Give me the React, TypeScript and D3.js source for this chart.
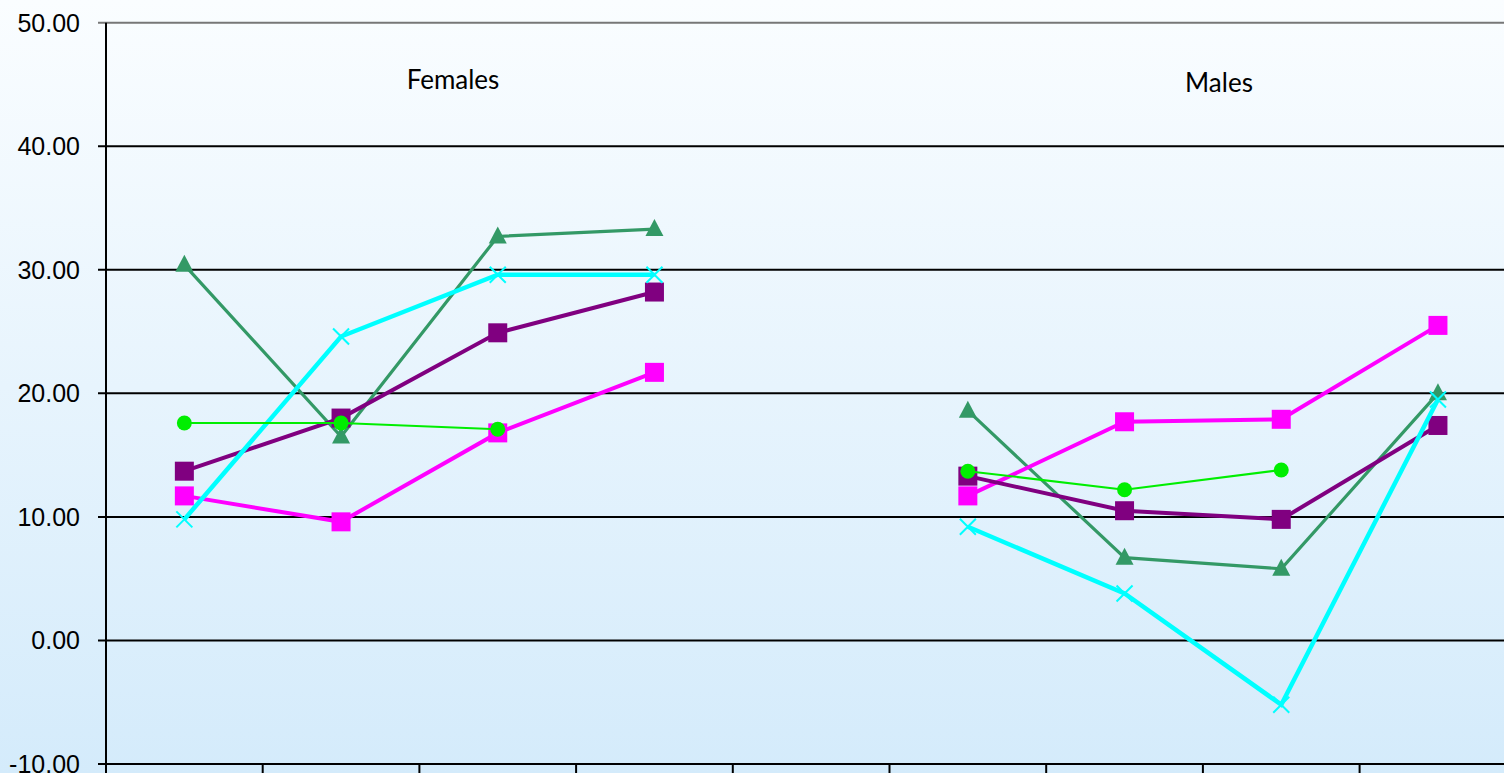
import * as d3 from 'd3';
import React from 'react';

const categories = ['F1', 'F2', 'F3', 'F4', 'gap', 'M1', 'M2', 'M3', 'M4'];
const yTicks = [-10, 0, 10, 20, 30, 40, 50];

const seaGreenValues = [30.4, 16.5, 32.7, 33.3, null, 18.6, 6.7, 5.8, 20.0];
const magentaValues = [11.7, 9.6, 16.8, 21.7, null, 11.7, 17.7, 17.9, 25.5];
const purpleValues = [13.7, 18.0, 24.9, 28.2, null, 13.3, 10.5, 9.8, 17.4];
const cyanValues = [9.8, 24.6, 29.6, 29.6, null, 9.2, 3.8, -5.2, 19.5];
const limeValues = [17.6, 17.6, 17.1, null, null, 13.7, 12.2, 13.8, null];

const groupLabels = [
  { text: 'Females', x: 453, y: 89 },
  { text: 'Males', x: 1219, y: 92 },
];

type Marker = 'triangle' | 'square' | 'cross' | 'circle';

const series: { name: string; color: string; width: number; marker: Marker; values: (number | null)[] }[] = [
  { name: 'seagreen', color: '#339966', width: 3.2, marker: 'triangle', values: seaGreenValues },
  { name: 'magenta', color: '#ff00ff', width: 4, marker: 'square', values: magentaValues },
  { name: 'purple', color: '#800080', width: 4, marker: 'square', values: purpleValues },
  { name: 'cyan', color: '#00ffff', width: 4.5, marker: 'cross', values: cyanValues },
  { name: 'lime', color: '#00ee00', width: 2, marker: 'circle', values: limeValues },
];

const W = 1504;
const H = 773;
const left = 106;
const bandW = 156.7;

export default function App() {
  const x = d3.scaleBand<string>().domain(categories).range([left, left + bandW * categories.length]);
  const y = d3.scaleLinear().domain([-10, 50]).range([764, 22.7]);
  const cx = (c: string) => (x(c) ?? 0) + x.bandwidth() / 2;

  const symbol = (m: Marker, px: number, py: number, color: string, key: string) => {
    if (m === 'square') {
      return <rect key={key} x={px - 9.5} y={py - 9.5} width={19} height={19} fill={color} />;
    }
    if (m === 'circle') {
      return <circle key={key} cx={px} cy={py} r={7.5} fill={color} />;
    }
    if (m === 'triangle') {
      return (
        <path
          key={key}
          d={`M${px},${py - 10}L${px + 9},${py + 7}L${px - 9},${py + 7}Z`}
          fill={color}
        />
      );
    }
    return (
      <path
        key={key}
        d={`M${px - 8},${py - 8}L${px + 8},${py + 8}M${px - 8},${py + 8}L${px + 8},${py - 8}`}
        stroke={color}
        strokeWidth={2}
      />
    );
  };

  return (
    <svg width={W} height={H} style={{ position: 'absolute', left: 0, top: 0 }}>
      <defs>
        <linearGradient id="bg" x1="0" y1="0" x2="0" y2="1">
          <stop offset="0%" stopColor="#fafdff" />
          <stop offset="100%" stopColor="#d4ebfb" />
        </linearGradient>
      </defs>
      <rect x={0} y={0} width={W} height={H} fill="url(#bg)" />

      {yTicks.map((t) => (
        <g key={`tick-${t}`}>
          <line
            x1={98}
            x2={W}
            y1={y(t)}
            y2={y(t)}
            stroke={t === 50 ? '#777' : '#000'}
            strokeWidth={2}
          />
          <text
            x={80}
            y={y(t)}
            dy="0.36em"
            textAnchor="end"
            fontFamily="Liberation Sans, Arial, sans-serif"
            fontSize={25}
            fill="#000"
          >
            {t.toFixed(2)}
          </text>
        </g>
      ))}

      <line x1={left} x2={left} y1={y(50)} y2={H} stroke="#000" strokeWidth={2} />
      {categories.slice(1).map((c) => (
        <line key={`xt-${c}`} x1={x(c)} x2={x(c)} y1={y(-10)} y2={H} stroke="#000" strokeWidth={2} />
      ))}

      {groupLabels.map((g) => (
        <text
          key={g.text}
          x={g.x}
          y={g.y}
          textAnchor="middle"
          fontFamily="Lato, 'Open Sans', sans-serif"
          fontSize={26}
          fill="#000"
        >
          {g.text}
        </text>
      ))}

      {series.map((s) => {
        const line = d3
          .line<number | null>()
          .defined((d) => d !== null)
          .x((_, i) => cx(categories[i]))
          .y((d) => y(d as number));
        return (
          <g key={s.name}>
            <path d={line(s.values) ?? ''} fill="none" stroke={s.color} strokeWidth={s.width} />
            {s.values.map((v, i) =>
              v === null ? null : symbol(s.marker, cx(categories[i]), y(v), s.color, `${s.name}-${i}`),
            )}
          </g>
        );
      })}
    </svg>
  );
}
